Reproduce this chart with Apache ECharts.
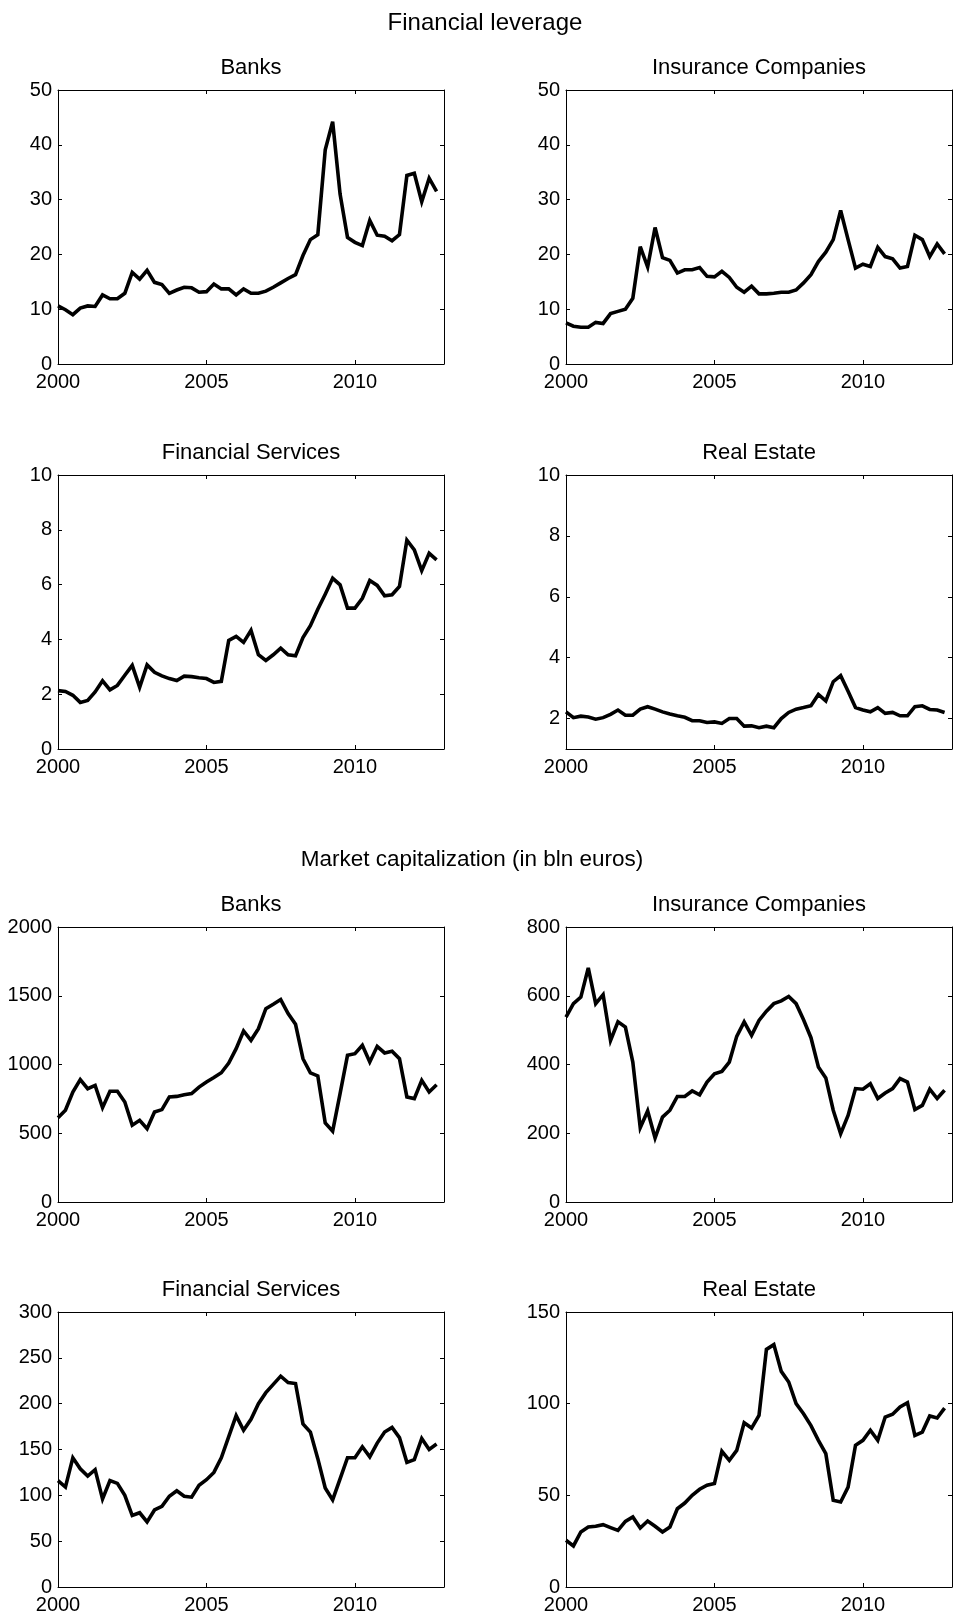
<!DOCTYPE html>
<html>
<head>
<meta charset="utf-8">
<script src="https://cdn.jsdelivr.net/npm/echarts@6/dist/echarts.min.js"></script>
<style>
  html, body { margin: 0; padding: 0; background: #fff; }
  #chart { width: 958px; height: 1619px; }
</style>
</head>
<body>
<div id="chart"></div>
<script>
// Quarterly observations, 2000Q1 .. 2012Q4
const startYear = 2000;
const yearTicks = [2000, 2005, 2010];

// Financial leverage
const levBanks = [10.6, 9.9, 9.0, 10.2, 10.6, 10.5, 12.6, 11.9, 11.9, 12.9, 16.7, 15.5, 17.1, 14.9, 14.5, 12.9,
  13.5, 14.0, 13.9, 13.1, 13.2, 14.6, 13.7, 13.7, 12.6, 13.7, 12.9, 12.9, 13.3, 14.0, 14.8, 15.6,
  16.3, 19.8, 22.7, 23.6, 39.1, 44.2, 31.0, 23.1, 22.2, 21.6, 26.2, 23.5, 23.3, 22.5, 23.6, 34.4,
  34.8, 29.6, 33.9, 31.5];
const levInsurance = [7.5, 6.9, 6.7, 6.7, 7.6, 7.4, 9.2, 9.6, 10.0, 12.0, 21.4, 17.7, 24.9, 19.4, 18.9, 16.6,
  17.2, 17.2, 17.6, 16.0, 15.9, 16.9, 15.8, 14.0, 13.1, 14.2, 12.8, 12.8, 12.9, 13.1, 13.1, 13.5,
  14.8, 16.3, 18.7, 20.4, 22.7, 28.0, 22.7, 17.5, 18.2, 17.8, 21.3, 19.6, 19.2, 17.5, 17.8, 23.5,
  22.7, 19.6, 21.9, 20.1];
const levFinServices = [2.13, 2.10, 1.96, 1.70, 1.77, 2.08, 2.49, 2.16, 2.32, 2.69, 3.05, 2.25, 3.07, 2.80, 2.67, 2.57,
  2.50, 2.66, 2.64, 2.60, 2.57, 2.43, 2.47, 3.96, 4.11, 3.89, 4.33, 3.44, 3.23, 3.44, 3.68, 3.44,
  3.40, 4.07, 4.50, 5.10, 5.65, 6.23, 5.99, 5.14, 5.14, 5.50, 6.15, 5.97, 5.59, 5.63, 5.93, 7.62,
  7.27, 6.51, 7.14, 6.90];
const levRealEstate = [2.22, 2.03, 2.08, 2.05, 1.98, 2.03, 2.14, 2.28, 2.11, 2.11, 2.31, 2.39, 2.31, 2.22, 2.15, 2.09,
  2.04, 1.93, 1.93, 1.87, 1.89, 1.84, 2.00, 2.00, 1.75, 1.76, 1.70, 1.75, 1.70, 2.00, 2.20, 2.31,
  2.36, 2.42, 2.79, 2.58, 3.21, 3.41, 2.90, 2.36, 2.28, 2.22, 2.36, 2.17, 2.20, 2.09, 2.09, 2.39,
  2.42, 2.30, 2.28, 2.20];

// Market capitalization, bln euros
const capBanks = [613, 667, 800, 890, 824, 848, 686, 805, 805, 727, 558, 594, 533, 655, 672, 764,
  768, 780, 788, 836, 873, 905, 940, 1010, 1115, 1244, 1176, 1261, 1406, 1438, 1472, 1370,
  1292, 1042, 939, 917, 575, 515, 788, 1067, 1079, 1139, 1018, 1132, 1084, 1096, 1042, 764,
  752, 885, 800, 853];
const capInsurance = [538, 577, 596, 681, 577, 603, 470, 524, 509, 407, 216, 265, 186, 247, 267, 307,
  307, 323, 312, 349, 373, 380, 407, 482, 524, 485, 528, 555, 577, 585, 598, 577,
  530, 478, 393, 361, 267, 199, 252, 330, 328, 344, 301, 317, 330, 359, 349, 269,
  281, 328, 301, 325];
const capFinServices = [116, 109, 141, 129, 121, 128, 96, 116, 113, 100, 78, 81, 71, 84, 88, 99,
  105, 99, 98, 111, 117, 125, 141, 164, 187, 171, 183, 200, 212, 221, 230, 223,
  222, 178, 169, 140, 108, 95, 118, 141, 141, 153, 142, 157, 169, 174, 163, 136,
  139, 162, 150, 156];
const capRealEstate = [25.5, 22.4, 30.0, 32.7, 33.1, 34.0, 32.4, 30.9, 35.8, 38.2, 32.2, 36.0, 33.1, 30.0, 32.7, 42.7,
  45.8, 50.0, 53.3, 55.5, 56.4, 74.0, 69.1, 74.5, 89.6, 86.7, 93.6, 129.6, 132.2, 117.6, 111.8, 100.0,
  94.5, 88.0, 80.0, 72.7, 47.3, 46.4, 54.5, 77.3, 80.0, 85.5, 80.0, 92.7, 94.2, 98.2, 100.5, 82.7,
  84.5, 93.3, 92.2, 97.6];

// y-axis tick labels per panel
const ticksLev50 = [0, 10, 20, 30, 40, 50];
const ticksLev10 = [0, 2, 4, 6, 8, 10];
const ticksLevRE = [2, 4, 6, 8, 10];
const ticksCapBanks = [0, 500, 1000, 1500, 2000];
const ticksCapIns = [0, 200, 400, 600, 800];
const ticksCapFS = [0, 50, 100, 150, 200, 250, 300];
const ticksCapRE = [0, 50, 100, 150];

const panels = [
  { title: 'Banks', values: levBanks, min: 0, max: 50, ticks: ticksLev50 },
  { title: 'Insurance Companies', values: levInsurance, min: 0, max: 50, ticks: ticksLev50 },
  { title: 'Financial Services', values: levFinServices, min: 0, max: 10, ticks: ticksLev10 },
  { title: 'Real Estate', values: levRealEstate, min: 1, max: 10, ticks: ticksLevRE },
  { title: 'Banks', values: capBanks, min: 0, max: 2000, ticks: ticksCapBanks },
  { title: 'Insurance Companies', values: capInsurance, min: 0, max: 800, ticks: ticksCapIns },
  { title: 'Financial Services', values: capFinServices, min: 0, max: 300, ticks: ticksCapFS },
  { title: 'Real Estate', values: capRealEstate, min: 0, max: 150, ticks: ticksCapRE }
];

// layout of the 2 x 4 panel matrix (pixels)
const colLeft = [58, 566];
const plotWidth = 386;
const rowTop = [90, 475, 927, 1312];
const rowHeight = [274, 274, 275, 275];
const titleY = [67.5, 452.5, 904.5, 1290];

const FONT = '"Liberation Sans", Arial, Helvetica, sans-serif';
const black = '#000';

const grids = [], xAxes = [], yAxes = [], series = [], graphics = [];

panels.forEach((p, g) => {
  const col = g % 2, row = Math.floor(g / 2);
  grids.push({ left: colLeft[col], top: rowTop[row], width: plotWidth, height: rowHeight[row], containLabel: false });

  const line = { show: true, onZero: false, lineStyle: { color: black, width: 1 } };
  const tickX = { show: true, inside: true, length: 4, customValues: yearTicks, lineStyle: { color: black, width: 1 } };
  const tickY = { show: true, inside: true, length: 4, customValues: p.ticks, lineStyle: { color: black, width: 1 } };

  xAxes.push({
    type: 'value', gridIndex: g, position: 'bottom', min: 2000, max: 2013,
    axisLine: line, axisTick: tickX, splitLine: { show: false },
    axisLabel: { customValues: yearTicks, formatter: v => String(v), color: black, fontSize: 20, fontFamily: FONT, margin: 8 }
  });
  xAxes.push({
    type: 'value', gridIndex: g, position: 'top', min: 2000, max: 2013,
    axisLine: line, axisTick: tickX, splitLine: { show: false }, axisLabel: { show: false }
  });
  yAxes.push({
    type: 'value', gridIndex: g, position: 'left', min: p.min, max: p.max,
    axisLine: line, axisTick: tickY, splitLine: { show: false },
    axisLabel: { customValues: p.ticks, formatter: v => String(v), color: black, fontSize: 20, fontFamily: FONT, margin: 6, padding: [4, 0, 0, 0] }
  });
  yAxes.push({
    type: 'value', gridIndex: g, position: 'right', min: p.min, max: p.max,
    axisLine: line, axisTick: tickY, splitLine: { show: false }, axisLabel: { show: false }
  });

  series.push({
    type: 'line', xAxisIndex: 2 * g, yAxisIndex: 2 * g,
    data: p.values.map((v, i) => [startYear + i / 4, v]),
    showSymbol: false, symbol: 'none', silent: true,
    lineStyle: { color: black, width: 3.6, join: 'miter', miterLimit: 4 }
  });

  graphics.push({
    type: 'text', x: colLeft[col] + plotWidth / 2, y: titleY[row],
    style: { text: p.title, font: '22px ' + FONT, textAlign: 'center', textVerticalAlign: 'middle', fill: black }
  });
});

graphics.push({
  type: 'text', x: 485, y: 23.5,
  style: { text: 'Financial leverage', font: '24px ' + FONT, textAlign: 'center', textVerticalAlign: 'middle', fill: black }
});
graphics.push({
  type: 'text', x: 472, y: 860,
  style: { text: 'Market capitalization (in bln euros)', font: '22.5px ' + FONT, textAlign: 'center', textVerticalAlign: 'middle', fill: black }
});

const chart = echarts.init(document.getElementById('chart'), null, { renderer: 'canvas' });
chart.setOption({
  animation: false,
  backgroundColor: '#fff',
  textStyle: { fontFamily: FONT },
  grid: grids,
  xAxis: xAxes,
  yAxis: yAxes,
  series: series,
  graphic: graphics
});
</script>
</body>
</html>
